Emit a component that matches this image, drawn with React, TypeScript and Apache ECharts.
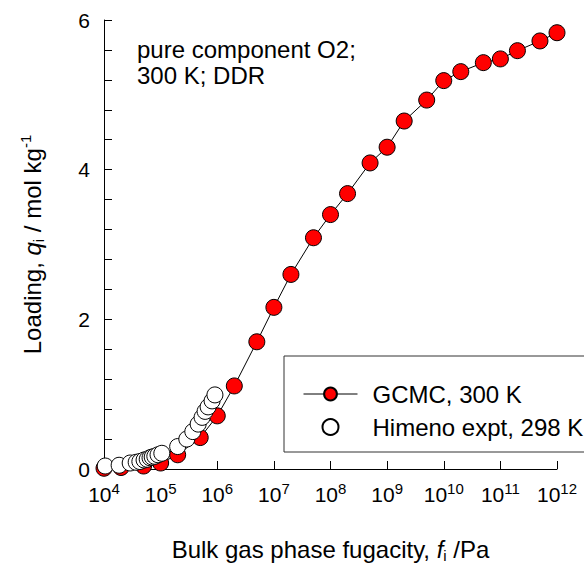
import React, { useEffect, useRef } from "react";
import * as echarts from "echarts";

const gcmcF = [1e4, 2e4, 5e4, 1e5, 2e5, 5e5, 1e6, 2e6, 5e6, 1e7, 2e7, 5e7, 1e8, 2e8, 5e8, 1e9, 2e9, 5e9, 1e10, 2e10, 5e10, 1e11, 2e11, 5e11, 1e12];
const gcmcQ = [0.01, 0.02, 0.04, 0.08, 0.19, 0.42, 0.71, 1.11, 1.7, 2.16, 2.6, 3.09, 3.4, 3.68, 4.09, 4.3, 4.65, 4.93, 5.19, 5.31, 5.43, 5.48, 5.59, 5.72, 5.83];

const himenoF = [1.05e4, 1.85e4, 2.9e4, 3.7e4, 4.3e4, 5.1e4, 5.8e4, 6.5e4, 7.1e4, 7.9e4, 9e4, 1.05e5, 2e5, 2.9e5, 3.7e5, 4.6e5, 5.4e5, 6.1e5, 6.9e5, 8.1e5, 9.1e5];
const himenoQ = [0.04, 0.05, 0.08, 0.09, 0.1, 0.12, 0.13, 0.15, 0.16, 0.17, 0.19, 0.21, 0.3, 0.4, 0.5, 0.6, 0.69, 0.77, 0.83, 0.91, 0.99];

const seriesNames = ["GCMC, 300 K", "Himeno expt, 298 K"];
const annotation = ["pure component O2;", "300 K; DDR"];

const FONT = "Liberation Sans, Arial, sans-serif";

export default function App() {
  const ref = useRef<HTMLDivElement>(null);
  useEffect(() => {
    if (!ref.current) return;
    const chart = echarts.init(ref.current, null, { renderer: "svg" });
    const nameRich = {
      b: { fontSize: 24, fontFamily: FONT, color: "#000", lineHeight: 28 },
      i: { fontSize: 24, fontFamily: FONT, fontStyle: "italic", color: "#000", lineHeight: 28 },
      sub: { fontSize: 15, fontFamily: FONT, color: "#000", verticalAlign: "bottom", lineHeight: 16 },
      sup: { fontSize: 15, fontFamily: FONT, color: "#000", verticalAlign: "top", lineHeight: 16 },
    };
    chart.setOption({
      animation: false,
      backgroundColor: "#fff",
      textStyle: { fontFamily: FONT, color: "#000" },
      grid: { left: 104, right: 27, top: 20, bottom: 95, containLabel: false },
      graphic: [
        {
          type: "rect",
          z: 1,
          shape: { x: 284, y: 356, width: 330, height: 96 },
          style: { fill: "#fff", stroke: "#333", lineWidth: 1 },
        },
        {
          type: "text",
          left: 137,
          top: 36,
          z: 5,
          style: {
            text: annotation.join("\n"),
            font: `24px ${FONT}`,
            lineHeight: 26,
            fill: "#000",
          },
        },
      ],
      legend: {
        orient: "vertical",
        left: 298,
        top: 377,
        itemWidth: 54,
        itemHeight: 16,
        itemGap: 9,
        z: 6,
        lineStyle: { width: 1, color: "#000" },
        textStyle: { fontSize: 24, lineHeight: 24, fontFamily: FONT, color: "#000", padding: [0, 0, 0, 10] },
        data: seriesNames,
      },
      xAxis: {
        type: "log",
        logBase: 10,
        min: 1e4,
        max: 1e12,
        name: "{b|Bulk gas phase fugacity, }{i|f}{sub|i}{b| /Pa}",
        nameLocation: "middle",
        nameGap: 66,
        nameTextStyle: { rich: nameRich },
        axisLine: { show: true, onZero: false, lineStyle: { color: "#000", width: 1 } },
        axisTick: { show: true, inside: true, length: 8, lineStyle: { color: "#000" } },
        minorTick: { show: false },
        splitLine: { show: false },
        axisLabel: {
          margin: 12,
          formatter: (v: number) => {
            const e = Math.round(Math.log10(v));
            return `{b|10}{s|${e}}`;
          },
          rich: {
            b: { fontSize: 21, fontFamily: FONT, color: "#000", lineHeight: 26 },
            s: { fontSize: 15, fontFamily: FONT, color: "#000", verticalAlign: "top", lineHeight: 14 },
          },
        },
      },
      yAxis: {
        type: "value",
        min: 0,
        max: 6,
        interval: 2,
        name: "{b|Loading, }{i|q}{sub|i}{b| / mol kg}{sup|-1}",
        nameLocation: "middle",
        nameRotate: 90,
        nameGap: 58,
        nameTextStyle: { rich: nameRich },
        axisLine: { show: true, onZero: false, lineStyle: { color: "#000", width: 1 } },
        axisTick: { show: true, inside: true, length: 8, lineStyle: { color: "#000" } },
        minorTick: { show: true, splitNumber: 5, length: 8, lineStyle: { color: "#000" } },
        splitLine: { show: false },
        axisLabel: { fontSize: 21, fontFamily: FONT, color: "#000", margin: 14 },
      },
      series: [
        {
          name: seriesNames[0],
          type: "line",
          data: gcmcF.map((f, i) => [f, gcmcQ[i]]),
          symbol: "circle",
          symbolSize: 16,
          lineStyle: { color: "#000", width: 1 },
          itemStyle: { color: "#ff0000", borderColor: "#000", borderWidth: 1 },
          z: 3,
        },
        {
          name: seriesNames[1],
          type: "scatter",
          data: himenoF.map((f, i) => [f, himenoQ[i]]),
          symbol: "circle",
          symbolSize: 16,
          itemStyle: { color: "#fff", borderColor: "#000", borderWidth: 1, opacity: 1 },
          z: 4,
        },
      ],
    });
    return () => chart.dispose();
  }, []);
  return <div ref={ref} style={{ width: 584, height: 568, position: "absolute", left: 0, top: 0 }} />;
}
